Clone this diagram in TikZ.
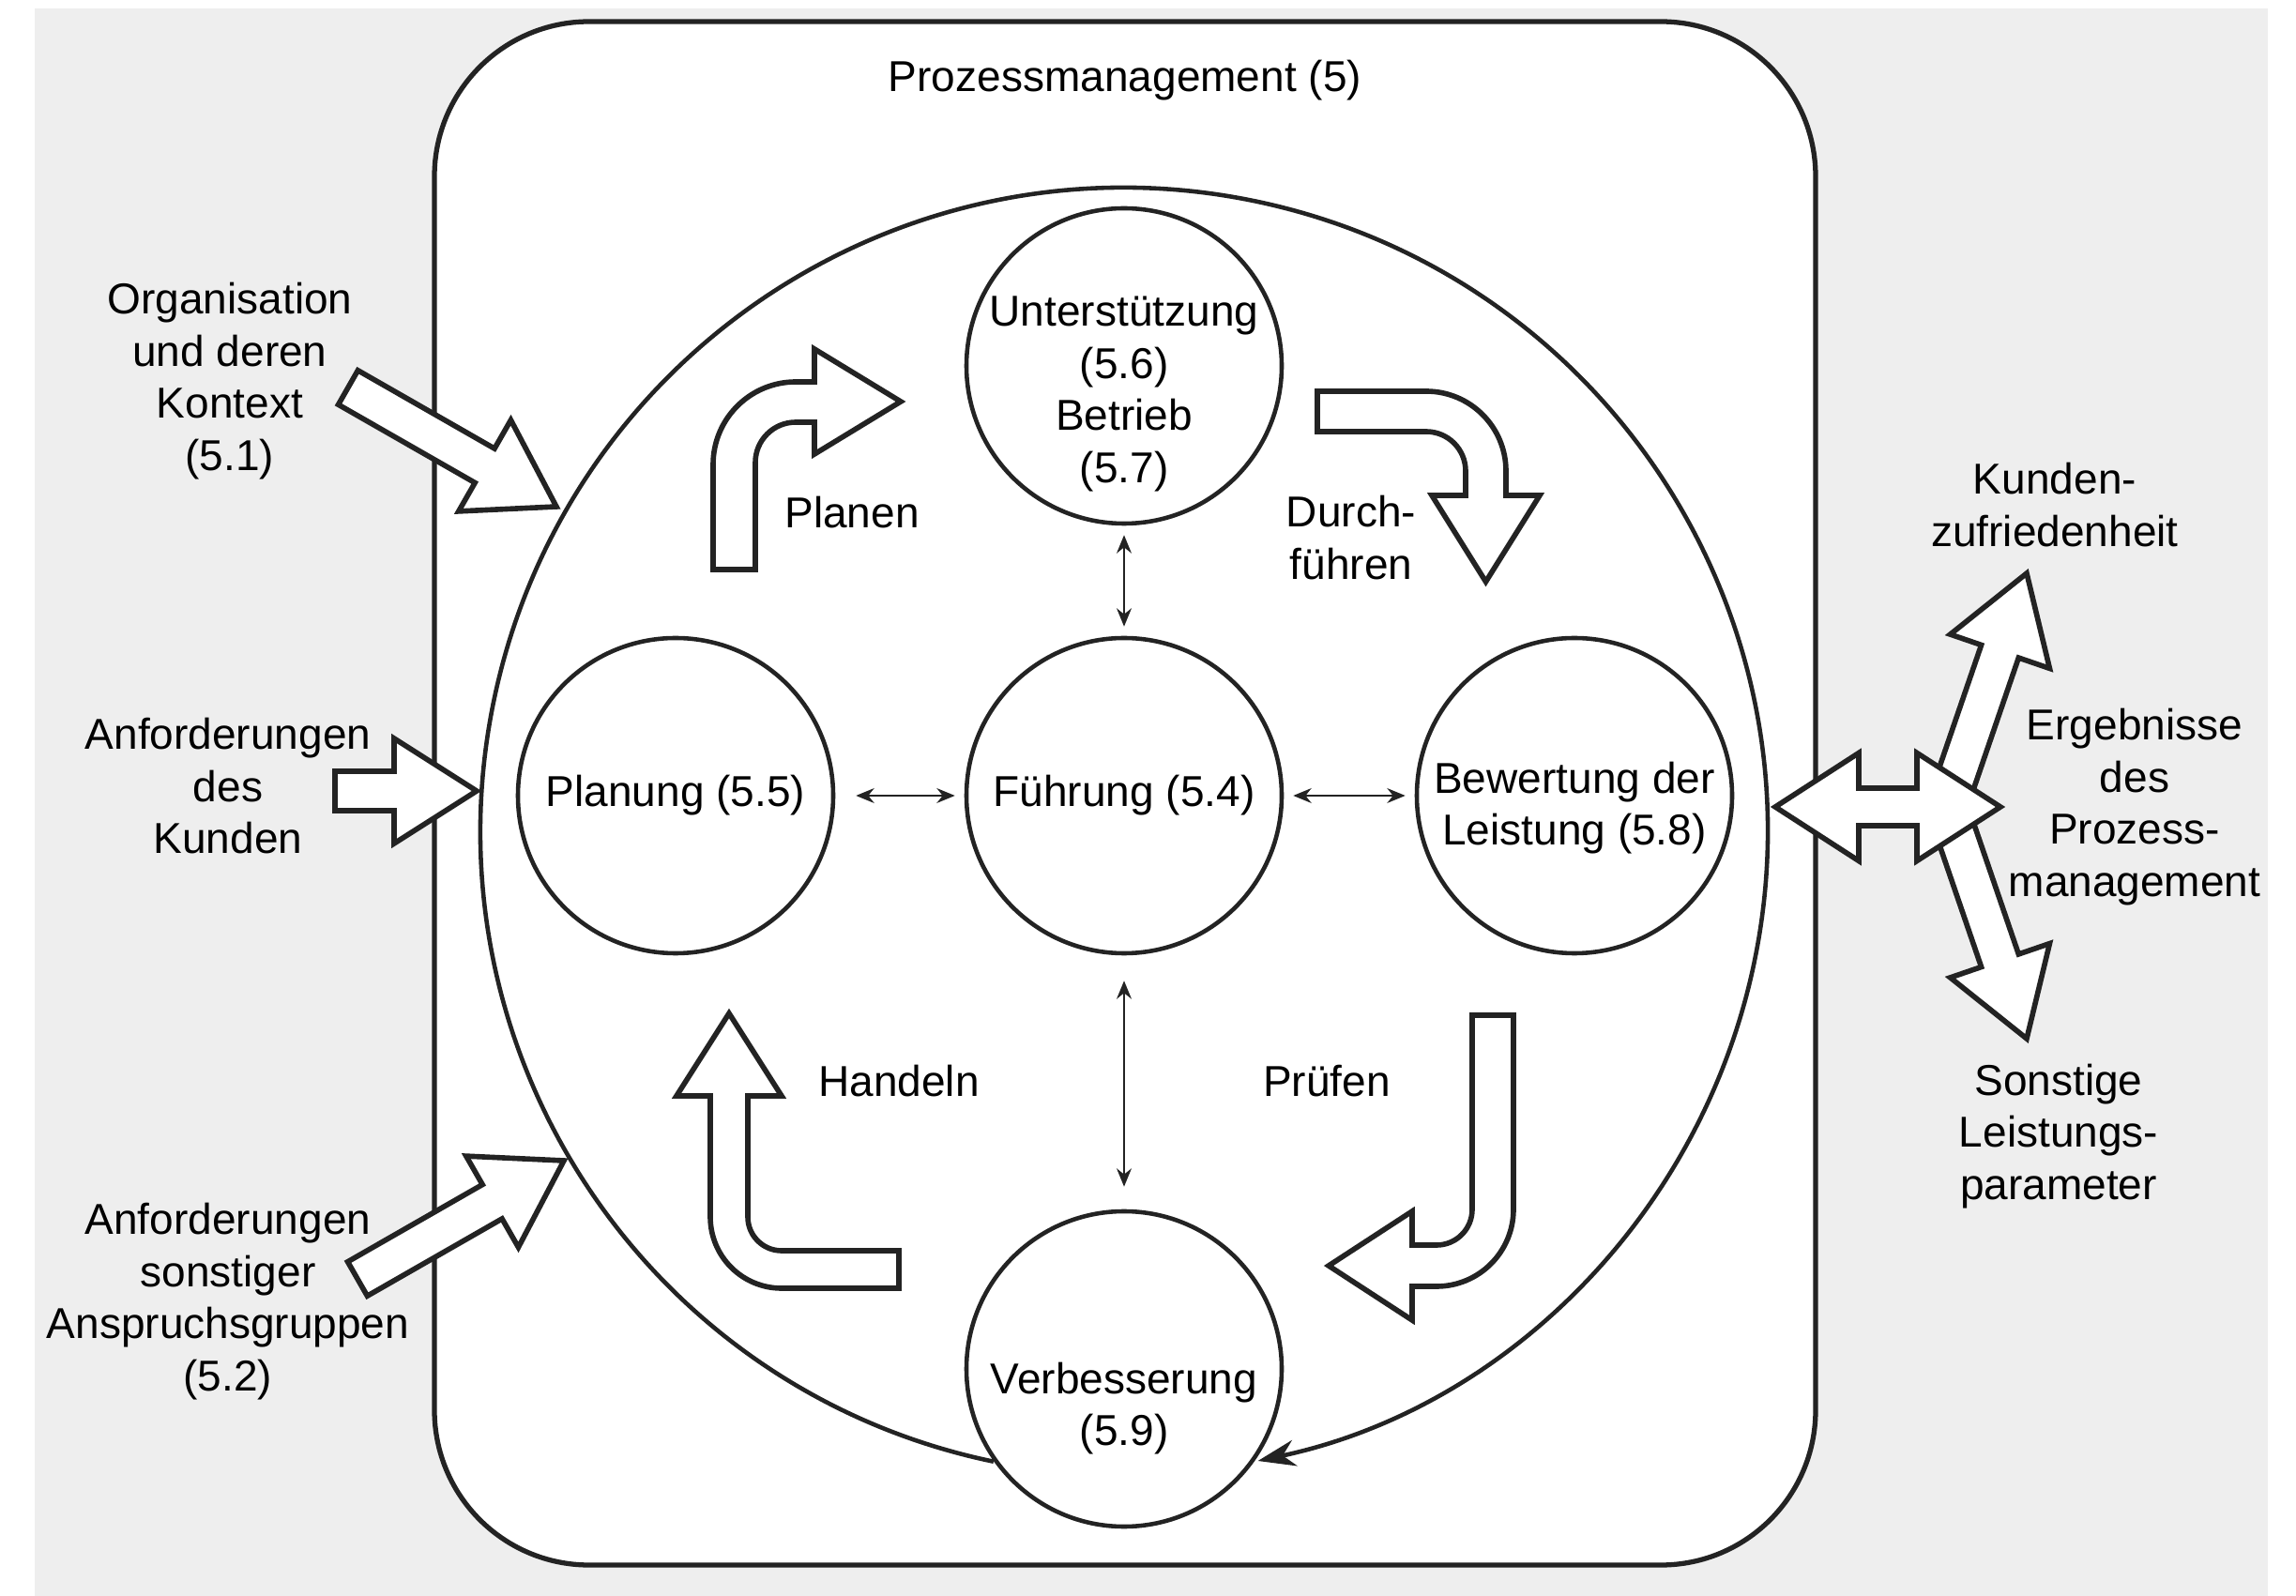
\documentclass[tikz,border=0pt]{standalone}
\usepackage{fontspec}
\setmainfont{Liberation Sans}
\usetikzlibrary{arrows.meta,calc}
\definecolor{hgrau}{RGB}{238,238,238}
\definecolor{linie}{RGB}{35,35,35}
\newcommand{\blockpfeil}[2]{%
	\coordinate (pfbasis) at ($(#2)!0.88cm!(#1)$);
	\draw[blockpfeil] ($(#1)!0.21cm!90:(#2)$) -- ($(pfbasis)!0.21cm!90:(#2)$) -- ($(pfbasis)!0.56cm!90:(#2)$) -- (#2)
		-- ($(pfbasis)!0.56cm!-90:(#2)$) -- ($(pfbasis)!0.21cm!-90:(#2)$) -- ($(#1)!0.21cm!-90:(#2)$) -- cycle;
}

\begin{document}
\begin{tikzpicture}[
	every node/.style={font=\fontsize{13.1}{15.8}\selectfont, text=black},
	kreis/.style={circle, draw=linie, line width=1.3pt, fill=white, minimum size=3.36cm, inner sep=0pt, align=center},
	blockpfeil/.style={draw=linie, line width=1.6pt, fill=white, line join=miter},
	dpfeil/.style={{Stealth[length=5.5pt,width=4.5pt]}-{Stealth[length=5.5pt,width=4.5pt]}, draw=linie, line width=0.6pt, shorten <=0.1cm, shorten >=0.1cm},
	txt/.style={align=center}
	]
		\fill[white] (0,0) rectangle (24.47,-17.01);
		\useasboundingbox (0,0) rectangle (24.47,-17.01);
		\fill[hgrau] (0.37,-0.09) rectangle (24.17,-17.01);
		\draw[draw=linie, fill=white, line width=1.5pt, rounded corners=1.65cm] (4.63,-0.23) rectangle (19.35,-16.68);
		\node (titel) at (11.99,-0.86) {Prozessmanagement (5)};

		\node[kreis] (fuehrung) at (11.98,-8.48) {Führung (5.4)};
		\draw (fuehrung) ++(-4.78,0) node[kreis](planung){Planung (5.5)};
		\draw (fuehrung) ++(4.80,0) node[kreis](bewertung){};
		\draw (fuehrung) ++(0,4.58) node[kreis](unterst){};
		\draw (fuehrung) ++(0,-6.11) node[kreis](verbess){};
		\node[txt] (unterstext) at ([yshift=-0.30cm]unterst) {Unterstützung\\(5.6)\\Betrieb\\(5.7)};
		\node[txt] (bewertext) at ([yshift=-0.13cm]bewertung) {Bewertung der\\Leistung (5.8)};
		\node[txt] (verbesstext) at ([yshift=-0.42cm]verbess) {Verbesserung\\(5.9)};

		\coordinate (mitte) at (11.98,-8.86);
		\draw[draw=linie, line width=1.3pt, -{Stealth[length=0.4cm,width=0.28cm]}] ([shift={(258.3:6.86)}]mitte) arc[start angle=258.3, end angle=-78, radius=6.86];

		\draw[dpfeil, shorten <=0.22cm] (planung) -- (fuehrung);
		\draw[dpfeil] (fuehrung) -- (bewertung);
		\draw[dpfeil] (unterst) -- (fuehrung);
		\draw[dpfeil, shorten <=0.27cm, shorten >=0.24cm] (fuehrung) -- (verbess);

		\draw[blockpfeil] (7.60,-6.07) -- (7.60,-4.95) arc[start angle=180, end angle=90, radius=0.88] -- (8.68,-4.07) -- (8.68,-3.72) -- (9.60,-4.28) -- (8.68,-4.84) -- (8.68,-4.50) -- (8.48,-4.50) arc[start angle=90, end angle=180, radius=0.43] -- (8.05,-6.07) -- cycle;
		\draw[blockpfeil] (14.04,-4.17) -- (15.20,-4.17) arc[start angle=90, end angle=0, radius=0.85] -- (16.05,-5.28) -- (16.41,-5.28) -- (15.835,-6.20) -- (15.26,-5.28) -- (15.62,-5.28) -- (15.62,-5.02) arc[start angle=0, end angle=90, radius=0.42] -- (14.04,-4.60) -- cycle;
		\draw[blockpfeil] (15.69,-10.82) -- (16.13,-10.82) -- (16.13,-12.89) arc[start angle=0, end angle=-90, radius=0.82] -- (15.05,-13.71) -- (15.05,-14.07) -- (14.16,-13.49) -- (15.05,-12.91) -- (15.05,-13.27) -- (15.31,-13.27) arc[start angle=-90, end angle=0, radius=0.38] -- cycle;
		\draw[blockpfeil] (9.58,-13.33) -- (8.33,-13.33) arc[start angle=-90, end angle=-180, radius=0.36] -- (7.97,-11.68) -- (8.33,-11.68) -- (7.77,-10.80) -- (7.21,-11.68) -- (7.57,-11.68) -- (7.57,-12.97) arc[start angle=180, end angle=270, radius=0.76] -- (9.58,-13.73) -- cycle;

		\node (planen) at (9.08,-5.46) {Planen};
		\node[txt] (durchfuehren) at (14.40,-5.73) {Durch-\\führen};
		\node (handeln) at (9.58,-11.52) {Handeln};
		\node (pruefen) at (14.14,-11.52) {Prüfen};

		\node[txt] (organisation) at (2.45,-4.06) {Organisation\\und deren\\Kontext\\(5.1)};
		\node[txt] (kunde) at (2.43,-8.38) {Anforderungen\\des\\Kunden};
		\node[txt] (anspruch) at (2.43,-13.87) {Anforderungen\\sonstiger\\Anspruchsgruppen\\(5.2)};
		\coordinate (orgA) at (3.71,-4.13);
		\coordinate (orgB) at (5.93,-5.40);
		\coordinate (kundeA) at (3.57,-8.43);
		\coordinate (kundeB) at (5.08,-8.43);
		\coordinate (anspA) at (3.81,-13.63);
		\coordinate (anspB) at (6.01,-12.37);
		\blockpfeil{orgA}{orgB}
		\blockpfeil{kundeA}{kundeB}
		\blockpfeil{anspA}{anspB}

		\node[txt] (zufrieden) at (21.90,-5.38) {Kunden-\\zufriedenheit};
		\node[txt] (ergebnis) at (22.75,-8.60) {Ergebnisse\\des\\Prozess-\\management};
		\node[txt] (sonstige) at (21.94,-12.11) {Sonstige\\Leistungs-\\parameter};
		\coordinate (ergmitte) at (20.75,-8.59);
		\coordinate (zufrspitze) at (21.60,-6.11);
		\coordinate (sonstspitze) at (21.60,-11.07);
		\blockpfeil{ergmitte}{zufrspitze}
		\blockpfeil{ergmitte}{sonstspitze}
		\draw[blockpfeil] (18.92,-8.60) -- ++(0.89,0.575) -- ++(0,-0.375) -- ++(0.62,0) -- ++(0,0.375) -- ++(0.89,-0.575) -- ++(-0.89,-0.575) -- ++(0,0.375) -- ++(-0.62,0) -- ++(0,-0.375) -- cycle;
	\end{tikzpicture}
\end{document}
